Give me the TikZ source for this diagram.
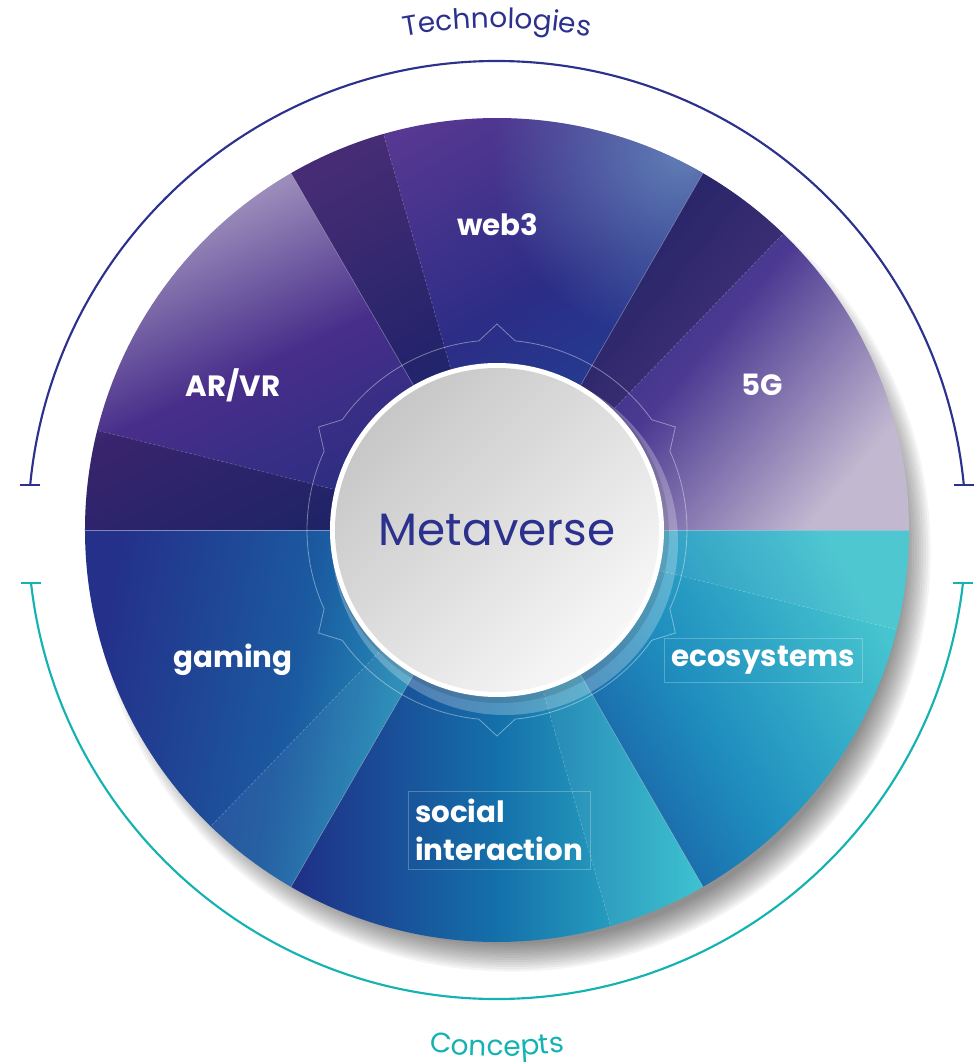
\documentclass[tikz,border=0pt]{standalone}
\usepackage{fontspec}
\setmainfont{Poppins}
\usetikzlibrary{decorations.text,fadings}
\definecolor{technavy}{RGB}{44,49,142}
\definecolor{conceptteal}{RGB}{20,178,178}
\definecolor{arvrA}{RGB}{170,158,196}\definecolor{arvrB}{RGB}{72,46,138}\definecolor{arvrC}{RGB}{36,46,128}
\definecolor{webA}{RGB}{88,56,146}\definecolor{webB}{RGB}{44,45,134}\definecolor{webC}{RGB}{28,72,154}
\definecolor{webL}{RGB}{104,140,190}
\definecolor{fiveA}{RGB}{194,184,208}\definecolor{fiveB}{RGB}{76,58,146}\definecolor{fiveC}{RGB}{36,40,124}
\definecolor{gameA}{RGB}{44,184,203}\definecolor{gameB}{RGB}{27,90,160}\definecolor{gameC}{RGB}{36,48,138}
\definecolor{socA}{RGB}{52,192,206}\definecolor{socB}{RGB}{20,112,170}\definecolor{socC}{RGB}{31,47,134}
\definecolor{ecoA}{RGB}{70,196,207}\definecolor{ecoB}{RGB}{31,143,191}\definecolor{ecoC}{RGB}{23,75,152}
\tikzfading[name=glow,inner color=transparent!0,outer color=transparent!100]
\tikzset{
  lbl/.style={text=white,font=\fontsize{22}{29}\selectfont\bfseries},
  sepline/.style={white,opacity=0.35,line width=0.4pt},
  stripline/.style={white,opacity=0.3,line width=0.4pt,dash pattern=on 2pt off 1.5pt},
  gearline/.style={white,opacity=0.4,line width=0.6pt},
  techline/.style={technavy,line width=1.6pt},
  conceptline/.style={conceptteal,line width=1.6pt},
  textframe/.style={draw=white,draw opacity=0.25,line width=0.4pt,inner xsep=5.5pt,inner ysep=6pt}
}
\begin{document}
\begin{tikzpicture}[x=0.75pt,y=0.75pt]
  \useasboundingbox (-497,-534) rectangle (477,530);
  % soft shadow under the wheel
  \foreach \i in {0,...,12} \fill[black,opacity=0.045] (14,-22) circle ({392+2.3*\i});
  % top half: technologies
  \shade[top color=arvrA,bottom color=arvrC,middle color=arvrB,shading angle=25] (0,0) -- (120:412) arc[start angle=120,end angle=180,radius=412] -- cycle;
  \shade[top color=webA,bottom color=webC,middle color=webB,shading angle=30] (0,0) -- (60:412) arc[start angle=60,end angle=120,radius=412] -- cycle;
  \begin{scope}
    \clip (0,0) -- (60:412) arc[start angle=60,end angle=120,radius=412] -- cycle;
    \fill[webL,path fading=glow,opacity=0.85] (64:420) circle (190);
  \end{scope}
  \shade[top color=fiveA,bottom color=fiveC,middle color=fiveB,shading angle=-130] (0,0) -- (0:412) arc[start angle=0,end angle=60,radius=412] -- cycle;
  % bottom half: concepts
  \shade[top color=gameA,bottom color=gameC,middle color=gameB,shading angle=-100] (0,0) -- (180:412) arc[start angle=180,end angle=240,radius=412] -- cycle;
  \shade[top color=socA,bottom color=socC,middle color=socB,shading angle=-90] (0,0) -- (240:412) arc[start angle=240,end angle=300,radius=412] -- cycle;
  \shade[top color=ecoA,bottom color=ecoC,middle color=ecoB,shading angle=-60] (0,0) -- (300:412) arc[start angle=300,end angle=360,radius=412] -- cycle;
  % folded strips at the end of each slice
  \foreach \a in {46,106,166} {
    \fill[black,opacity=0.2] (0,0) -- (\a:412) arc[start angle=\a,end angle=\a+14,radius=412] -- cycle;
    \draw[stripline] (\a:165) -- (\a:412);
  }
  \foreach \a in {226,286,346} {
    \fill[white,opacity=0.05] (0,0) -- (\a:412) arc[start angle=\a,end angle=\a+14,radius=412] -- cycle;
    \draw[stripline] (\a:165) -- (\a:412);
  }
  \foreach \a in {60,120,240,300} \draw[sepline] (\a:165) -- (\a:412);
  \draw[white!70!technavy,opacity=0.6,line width=0.6pt] (180:412) -- (0:412);
  % gear ring round the hub
  \draw[gearline] (24.5:190) \foreach \t in {30,90,...,330} {
    -- (\t:206) -- ({\t+5.5}:190) arc[start angle=\t+5.5,end angle=\t+54.5,radius=190] } -- cycle;
  % hub
  \fill[white,opacity=0.25] (8,-12) circle (173);
  \fill[black,opacity=0.12] (3,-4) circle (169);
  \fill[white] (0,0) circle (167);
  \shade[top color=black!22,bottom color=white!97!black,shading angle=45] (0,0) circle (162);
  \node[text=technavy,font=\fontsize{34}{40}\selectfont] (hub) at (0,0) {Metaverse};
  % slice labels
  \node[lbl] (arvr) at (-264,145) {AR/VR};
  \node[lbl] (web3) at (1,305) {web3};
  \node[lbl] (fiveg) at (265,145) {5G};
  \node[lbl] (gaming) at (-264,-130) {gaming};
  \node[lbl,textframe] (eco) at (266,-130) {ecosystems};
  \node[lbl,textframe,align=left] (social) at (2,-300) {social\\interaction};
  % brackets
  \coordinate (techL) at (174.5:469); \coordinate (techR) at (5.5:469);
  \coordinate (concL) at (186.5:469); \coordinate (concR) at (353.5:469);
  \draw[techline] (techL) arc[start angle=174.5,end angle=5.5,radius=469];
  \draw[techline] (techL) ++(-10,0) -- ++(20,0); \draw[techline] (techR) ++(-10,0) -- ++(20,0);
  \draw[conceptline] (concL) arc[start angle=186.5,end angle=353.5,radius=469];
  \draw[conceptline] (concL) ++(-10,0) -- ++(20,0); \draw[conceptline] (concR) ++(-10,0) -- ++(20,0);
  \path[decorate,decoration={text along path,text align=center,
    text={|\color{technavy}\fontsize{21}{25}\selectfont|Technologies}}]
    (112:502) arc[start angle=112,end angle=68,radius=502];
  \path[decorate,decoration={text along path,text align=center,
    text={|\color{conceptteal}\fontsize{21}{25}\selectfont|Concepts}}]
    (256:526) arc[start angle=256,end angle=284,radius=526];
\end{tikzpicture}
\end{document}
